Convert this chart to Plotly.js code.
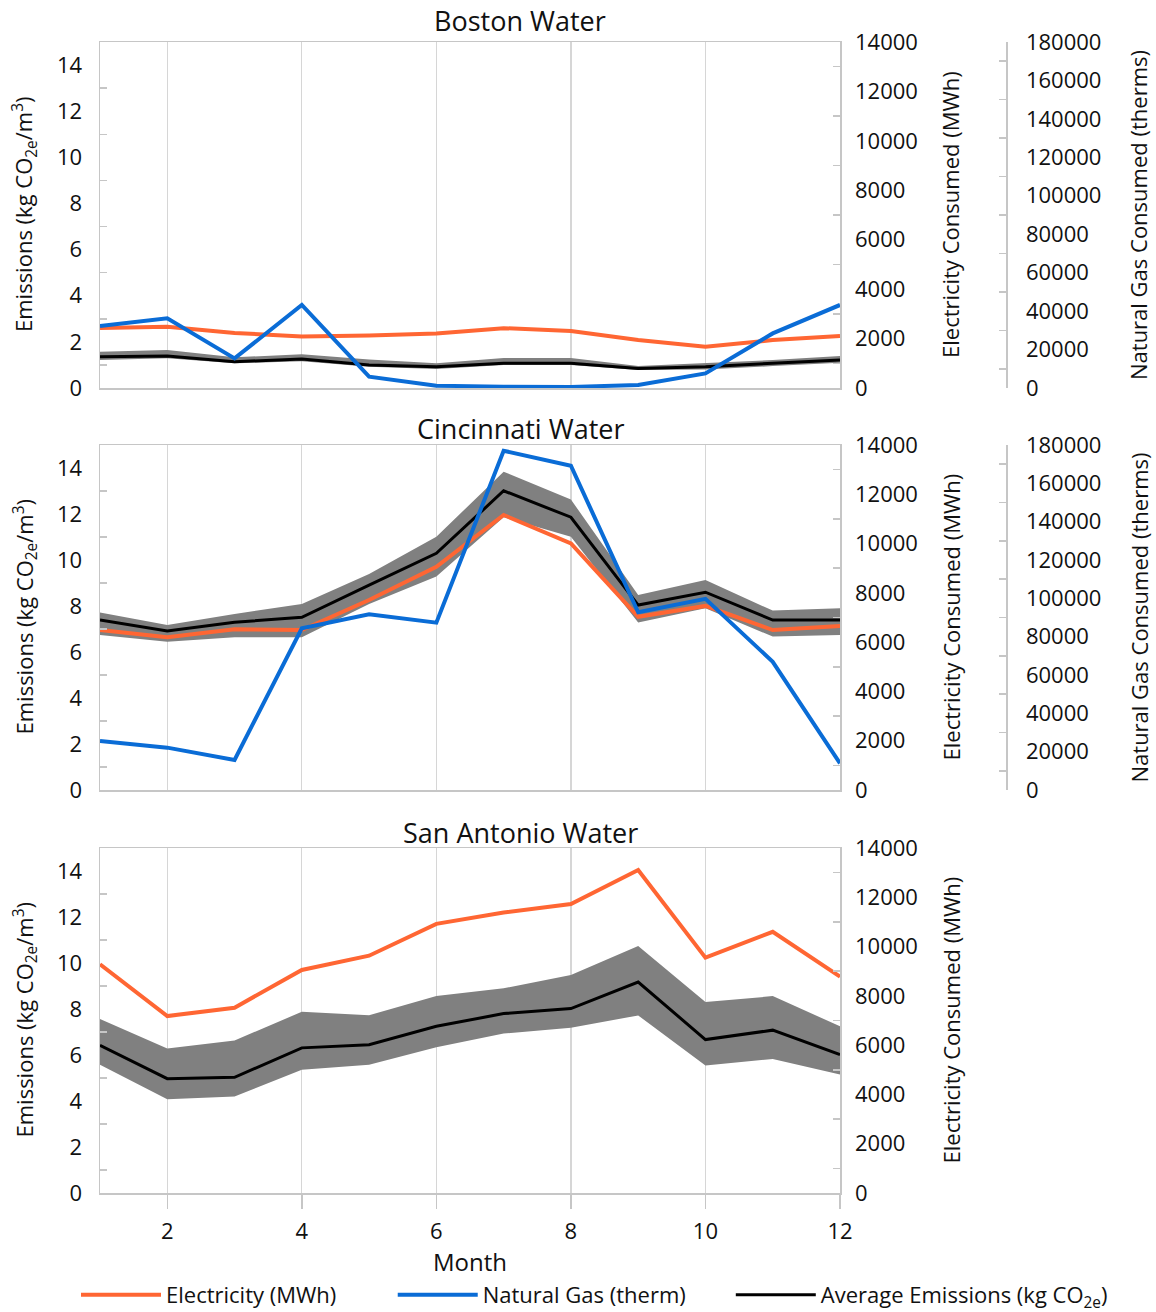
<!DOCTYPE html>
<html><head><meta charset="utf-8">
<script src="https://cdn.plot.ly/plotly-3.0.1.min.js"></script>
<style>html,body{margin:0;padding:0;background:#fff}</style>
</head><body><div id="chart" style="width:1156px;height:1312px"></div>
<script>
// ---------- data ----------
const months = [1,2,3,4,5,6,7,8,9,10,11,12];
const monthTicks = [2,4,6,8,10,12];
const emisTicks = [0,2,4,6,8,10,12,14];
const elecTicks = [0,2000,4000,6000,8000,10000,12000,14000];
const gasTicks = [0,20000,40000,60000,80000,100000,120000,140000,160000,180000];

const panelTitles = ["Boston Water", "Cincinnati Water", "San Antonio Water"];

// Boston
const elecBoston = [2430, 2480, 2230, 2080, 2120, 2210, 2420, 2310, 1940, 1670, 1940, 2100];
const gasBoston  = [32300, 36300, 15400, 43200, 5900, 1200, 700, 500, 1600, 7600, 28400, 43200];
const avgBoston  = [1.36, 1.39, 1.14, 1.26, 1.00, 0.92, 1.07, 1.07, 0.85, 0.92, 1.07, 1.21];
const hiBoston   = [1.57, 1.65, 1.33, 1.46, 1.24, 1.07, 1.30, 1.30, 0.95, 1.07, 1.21, 1.39];
const loBoston   = [1.21, 1.29, 1.07, 1.16, 0.92, 0.82, 1.00, 1.00, 0.78, 0.80, 0.95, 1.10];

// Cincinnati
const elecCinci = [6490, 6200, 6520, 6490, 7710, 9060, 11160, 10010, 7030, 7470, 6490, 6660];
const gasCinci  = [25600, 22100, 15700, 84400, 91700, 87300, 177000, 169200, 92700, 99700, 66900, 13900];
const avgCinci  = [7.39, 6.91, 7.29, 7.51, 8.91, 10.29, 13.01, 11.86, 8.04, 8.60, 7.39, 7.39];
const hiCinci   = [7.72, 7.17, 7.65, 8.09, 9.39, 11.01, 13.84, 12.63, 8.48, 9.13, 7.80, 7.90];
const loCinci   = [6.74, 6.45, 6.64, 6.64, 8.09, 9.28, 11.86, 11.01, 7.28, 7.90, 6.67, 6.74];

// San Antonio
const elecSanAnt = [9280, 7180, 7520, 9050, 9630, 10920, 11380, 11730, 13110, 9550, 10600, 8780];
const avgSanAnt  = [6.42, 4.97, 5.03, 6.31, 6.45, 7.25, 7.80, 8.02, 9.17, 6.67, 7.08, 6.02];
const hiSanAnt   = [7.57, 6.28, 6.63, 7.88, 7.73, 8.56, 8.90, 9.48, 10.74, 8.30, 8.56, 7.25];
const loSanAnt   = [5.58, 4.08, 4.20, 5.36, 5.58, 6.34, 6.93, 7.18, 7.72, 5.54, 5.83, 5.15];

// ---------- layout helpers ----------
const W = 1156, H = 1312;
const px = v => v / W;
const py = v => 1 - v / H;
const FONT = "Open Sans, sans-serif";
const ORANGE = "#FF6633", BLUE = "#0A6CD6", BAND = "#808080", AXC = "#C6C6C6";
const xDom = [px(100), px(840)];
const panelPx = [[42, 388], [445, 790], [848, 1193]];
const titleY = [20, 429, 832];
const odd = (a, b, s) => { const r = []; for (let v = a; v <= b; v += s) r.push(v); return r; };
const pad = n => "\u00A0".repeat(n);

const tickFont = {family: FONT, size: 22, color: "#111"};

const layout = {
  width: W, height: H,
  margin: {l: 0, r: 0, t: 0, b: 0, autoexpand: false},
  paper_bgcolor: "#fff", plot_bgcolor: "rgba(0,0,0,0)",
  font: {family: FONT, color: "#111"},
  showlegend: true,
  legend: {orientation: "h", x: px(76), y: py(1295), xanchor: "left", yanchor: "middle",
           font: {family: FONT, size: 22, color: "#111"}, itemwidth: 80,
           traceorder: "normal", bgcolor: "rgba(0,0,0,0)"},
  annotations: [],
  hovermode: false
};

const data = [];

const datasets = [
  {elec: elecBoston, gas: gasBoston, avg: avgBoston, hi: hiBoston, lo: loBoston},
  {elec: elecCinci, gas: gasCinci, avg: avgCinci, hi: hiCinci, lo: loCinci},
  {elec: elecSanAnt, gas: null, avg: avgSanAnt, hi: hiSanAnt, lo: loSanAnt}
];

let yIdx = 1;
datasets.forEach((d, p) => {
  const [top, bot] = panelPx[p];
  const xi = p + 1;
  const xn = xi === 1 ? "x" : "x" + xi;
  const xKey = xi === 1 ? "xaxis" : "xaxis" + xi;
  const yE = yIdx, yL = yIdx + 1, yG = d.gas ? yIdx + 2 : null;
  yIdx += d.gas ? 3 : 2;
  const yn = i => i === 1 ? "y" : "y" + i;
  const yk = i => i === 1 ? "yaxis" : "yaxis" + i;
  const last = p === 2;

  layout[xKey] = {
    domain: xDom, anchor: yn(yE), range: [1, 12],
    tickmode: "array", tickvals: monthTicks,
    showticklabels: last, ticks: last ? "outside" : "", ticklen: 14, tickcolor: AXC, tickwidth: 1.5,
    ticklabelstandoff: 4,
    tickfont: tickFont,
    showgrid: true, gridcolor: "#D6D6D6", gridwidth: 1.2,
    showline: true, mirror: true, linecolor: AXC, linewidth: 1.5, zeroline: false
  };
  layout[yk(yE)] = {
    domain: [py(bot), py(top)], anchor: xn, range: [0, 15],
    tickmode: "array", tickvals: emisTicks, ticks: "", tickfont: tickFont, ticklabelstandoff: 12,
    minor: {tickmode: "array", tickvals: odd(1, 13, 2), ticks: "inside", ticklen: 7, tickcolor: AXC, tickwidth: 1.5, showgrid: false},
    showgrid: false, zeroline: false, showline: true, mirror: true, linecolor: AXC, linewidth: 1.5
  };
  layout[yk(yL)] = {
    overlaying: yn(yE), side: "right", anchor: xn, range: [0, 14000],
    tickmode: "array", tickvals: elecTicks, tickformat: "d", ticks: "", tickfont: tickFont, ticklabelstandoff: 14,
    minor: {tickmode: "array", tickvals: odd(1000, 13000, 2000), ticks: "inside", ticklen: 7, tickcolor: AXC, tickwidth: 1.5, showgrid: false},
    showgrid: false, zeroline: false, showline: false
  };
  if (yG) {
    layout[yk(yG)] = {
      overlaying: yn(yE), side: "right", anchor: "free", position: px(1006), range: [0, 180000],
      tickmode: "array", tickvals: gasTicks, tickformat: "d", ticks: "", tickfont: tickFont, ticklabelstandoff: 14,
      minor: {tickmode: "array", tickvals: odd(10000, 170000, 20000), ticks: "inside", ticklen: 7, tickcolor: AXC, tickwidth: 1.5, showgrid: false},
      showgrid: false, zeroline: false, showline: true, linecolor: AXC, linewidth: 1.5
    };
  }

  // band
  data.push({x: months, y: d.lo, xaxis: xn, yaxis: yn(yE), mode: "lines", line: {width: 0, color: BAND}, showlegend: false, hoverinfo: "skip"});
  data.push({x: months, y: d.hi, xaxis: xn, yaxis: yn(yE), mode: "lines", line: {width: 0, color: BAND}, fill: "tonexty", fillcolor: BAND, showlegend: false, hoverinfo: "skip"});
  // electricity
  data.push({x: months, y: d.elec, xaxis: xn, yaxis: yn(yL), mode: "lines", name: "Electricity (MWh)" + pad(9),
             line: {color: ORANGE, width: 4}, showlegend: p === 0, legendrank: 1});
  // avg emissions
  data.push({x: months, y: d.avg, xaxis: xn, yaxis: yn(yE), mode: "lines", name: "Average Emissions (kg CO<sub>2e</sub>)",
             line: {color: "#000", width: 3}, showlegend: p === 0, legendrank: 3});
  if (d.gas) {
    data.push({x: months, y: d.gas, xaxis: xn, yaxis: yn(yG), mode: "lines", name: "Natural Gas (therm)" + pad(7),
               line: {color: BLUE, width: 4}, showlegend: p === 0, legendrank: 2});
  }

  const cy = py((top + bot) / 2);
  const ann = (text, x, y, size, angle) => layout.annotations.push({
    text, x, y, xref: "paper", yref: "paper", xanchor: "center", yanchor: "middle",
    showarrow: false, textangle: angle || 0, font: {family: FONT, size, color: "#111"}
  });
  ann(panelTitles[p], px(520), py(titleY[p]), 27);
  ann("Emissions (kg CO<sub>2e</sub>/m<sup>3</sup>)", px(25), cy, 22, -90);
  ann("Electricity Consumed (MWh)", px(950), cy, 22, -90);
  if (d.gas) ann("Natural Gas Consumed (therms)", px(1138), cy, 22, -90);
  if (last) ann("Month", px(470), py(1261), 24);
});

Plotly.newPlot("chart", data, layout, {staticPlot: true, displayModeBar: false});
</script></body></html>
